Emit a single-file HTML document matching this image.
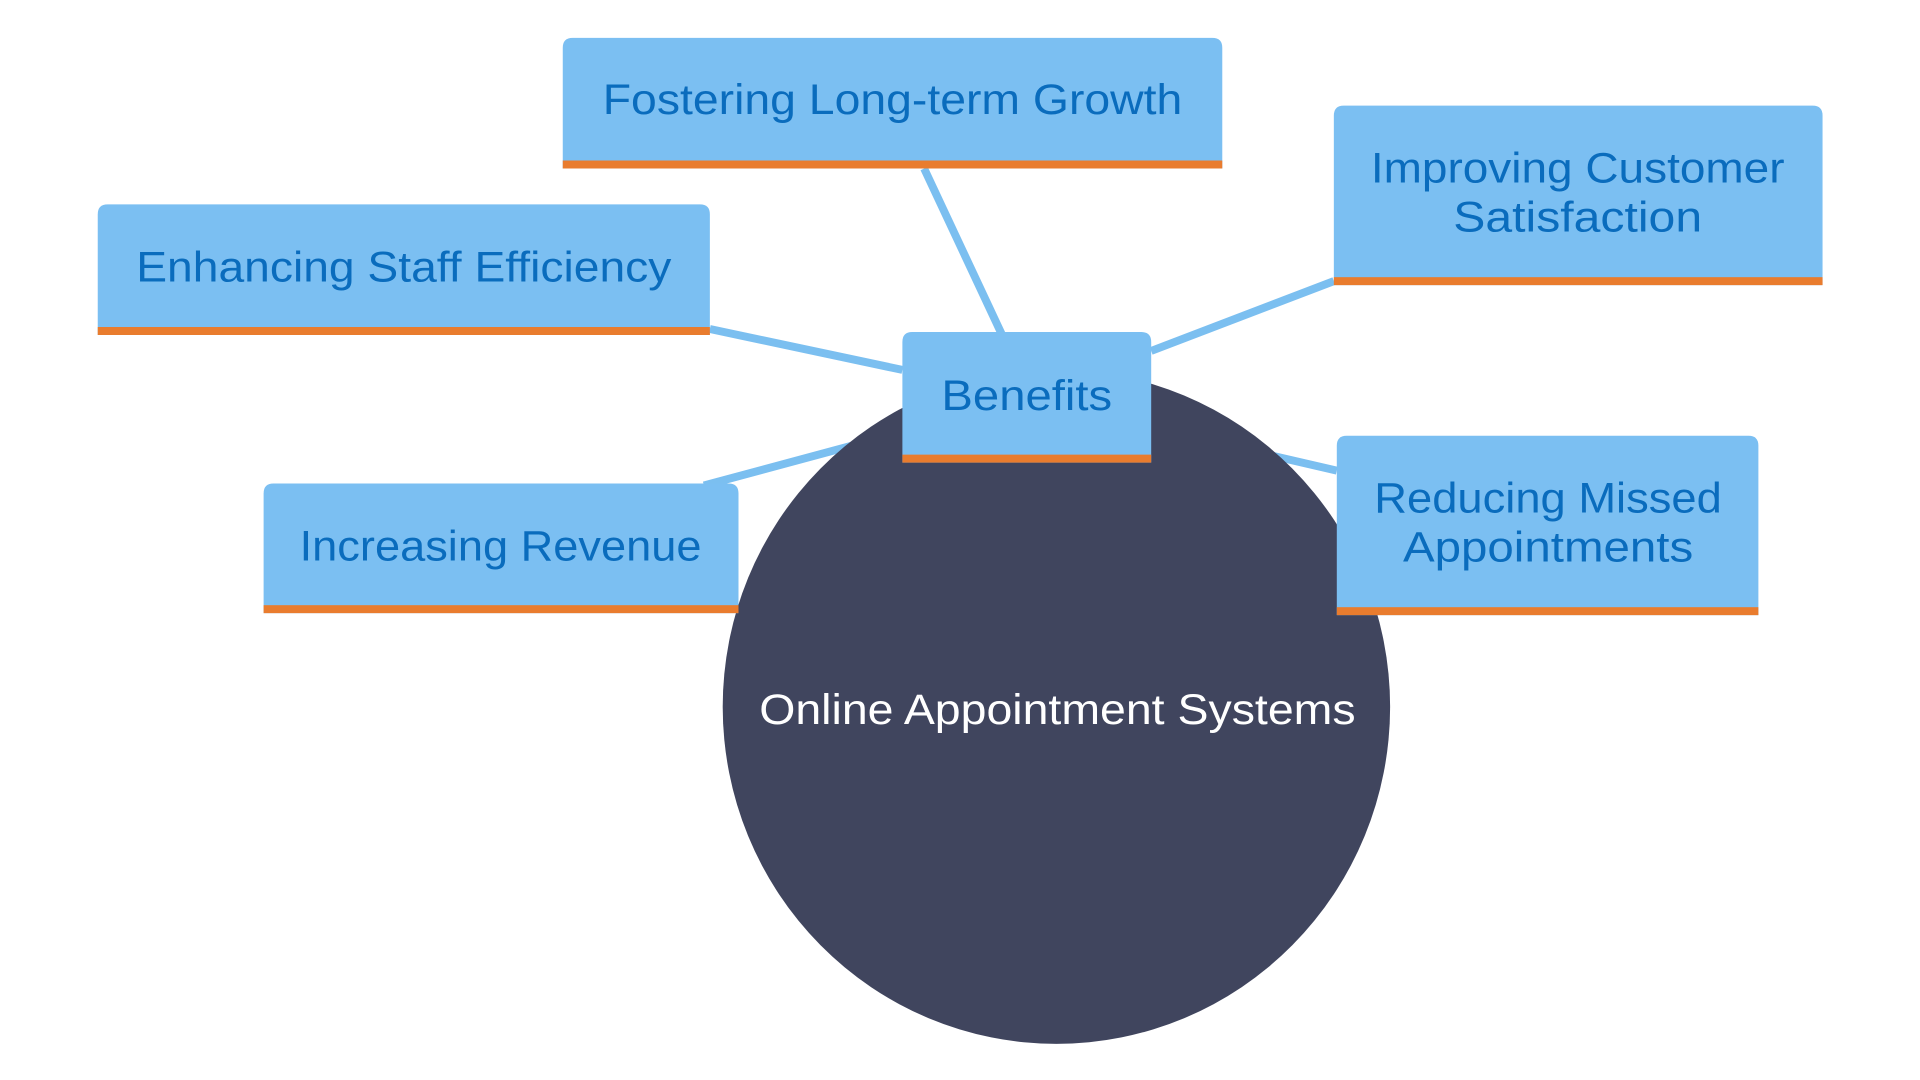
<!DOCTYPE html>
<html><head><meta charset="utf-8"><style>html,body{margin:0;padding:0;background:#fff}svg{display:block}</style></head>
<body>
<svg width="1920" height="1080" viewBox="0 0 1920 1080" xmlns="http://www.w3.org/2000/svg" font-family="Liberation Sans, sans-serif">
<g transform="scale(0.9873,0.997)">
<g stroke="#7bbff0" stroke-width="8" fill="none">
<line x1="936" y1="169" x2="1015" y2="336"/>
<line x1="719" y1="330" x2="914" y2="371"/>
<line x1="1351" y1="282" x2="1166" y2="352"/>
<line x1="713" y1="487" x2="1039" y2="400"/>
<line x1="1354" y1="472" x2="1039" y2="400"/>
</g>
<circle cx="1070" cy="709" r="338" fill="#40455e"/>
<text x="1071" y="712" fill="#ffffff" font-size="43" text-anchor="middle" dominant-baseline="central" textLength="604" lengthAdjust="spacingAndGlyphs">Online Appointment Systems</text>
<g fill="#7bbff2">
<path d="M570,169 V48 Q570,38 580,38 H1228 Q1238,38 1238,48 V169 Z"/>
<path d="M99,336 V215 Q99,205 109,205 H709 Q719,205 719,215 V336 Z"/>
<path d="M1351,286 V116 Q1351,106 1361,106 H1836 Q1846,106 1846,116 V286 Z"/>
<path d="M914,464 V343 Q914,333 924,333 H1156 Q1166,333 1166,343 V464 Z"/>
<path d="M267,615 V495 Q267,485 277,485 H738 Q748,485 748,495 V615 Z"/>
<path d="M1354,617 V447 Q1354,437 1364,437 H1771 Q1781,437 1781,447 V617 Z"/>
</g>
<g fill="#e97c2e">
<rect x="570" y="161" width="668" height="8"/>
<rect x="99" y="328" width="620" height="8"/>
<rect x="1351" y="278" width="495" height="8"/>
<rect x="914" y="456" width="252" height="8"/>
<rect x="267" y="607" width="481" height="8"/>
<rect x="1354" y="609" width="427" height="8"/>
</g>
<g fill="#0a6cbd" font-size="43" text-anchor="middle" dominant-baseline="central">
<text x="904" y="100" textLength="587" lengthAdjust="spacingAndGlyphs">Fostering Long-term Growth</text>
<text x="409" y="268" textLength="542" lengthAdjust="spacingAndGlyphs">Enhancing Staff Efficiency</text>
<text x="1598" y="169" textLength="419" lengthAdjust="spacingAndGlyphs">Improving Customer</text>
<text x="1598" y="218" textLength="252" lengthAdjust="spacingAndGlyphs">Satisfaction</text>
<text x="1040" y="397" textLength="173" lengthAdjust="spacingAndGlyphs">Benefits</text>
<text x="507" y="548" textLength="407" lengthAdjust="spacingAndGlyphs">Increasing Revenue</text>
<text x="1568" y="500" textLength="352" lengthAdjust="spacingAndGlyphs">Reducing Missed</text>
<text x="1568" y="549" textLength="294" lengthAdjust="spacingAndGlyphs">Appointments</text>
</g>
</g>
</svg>
</body></html>
